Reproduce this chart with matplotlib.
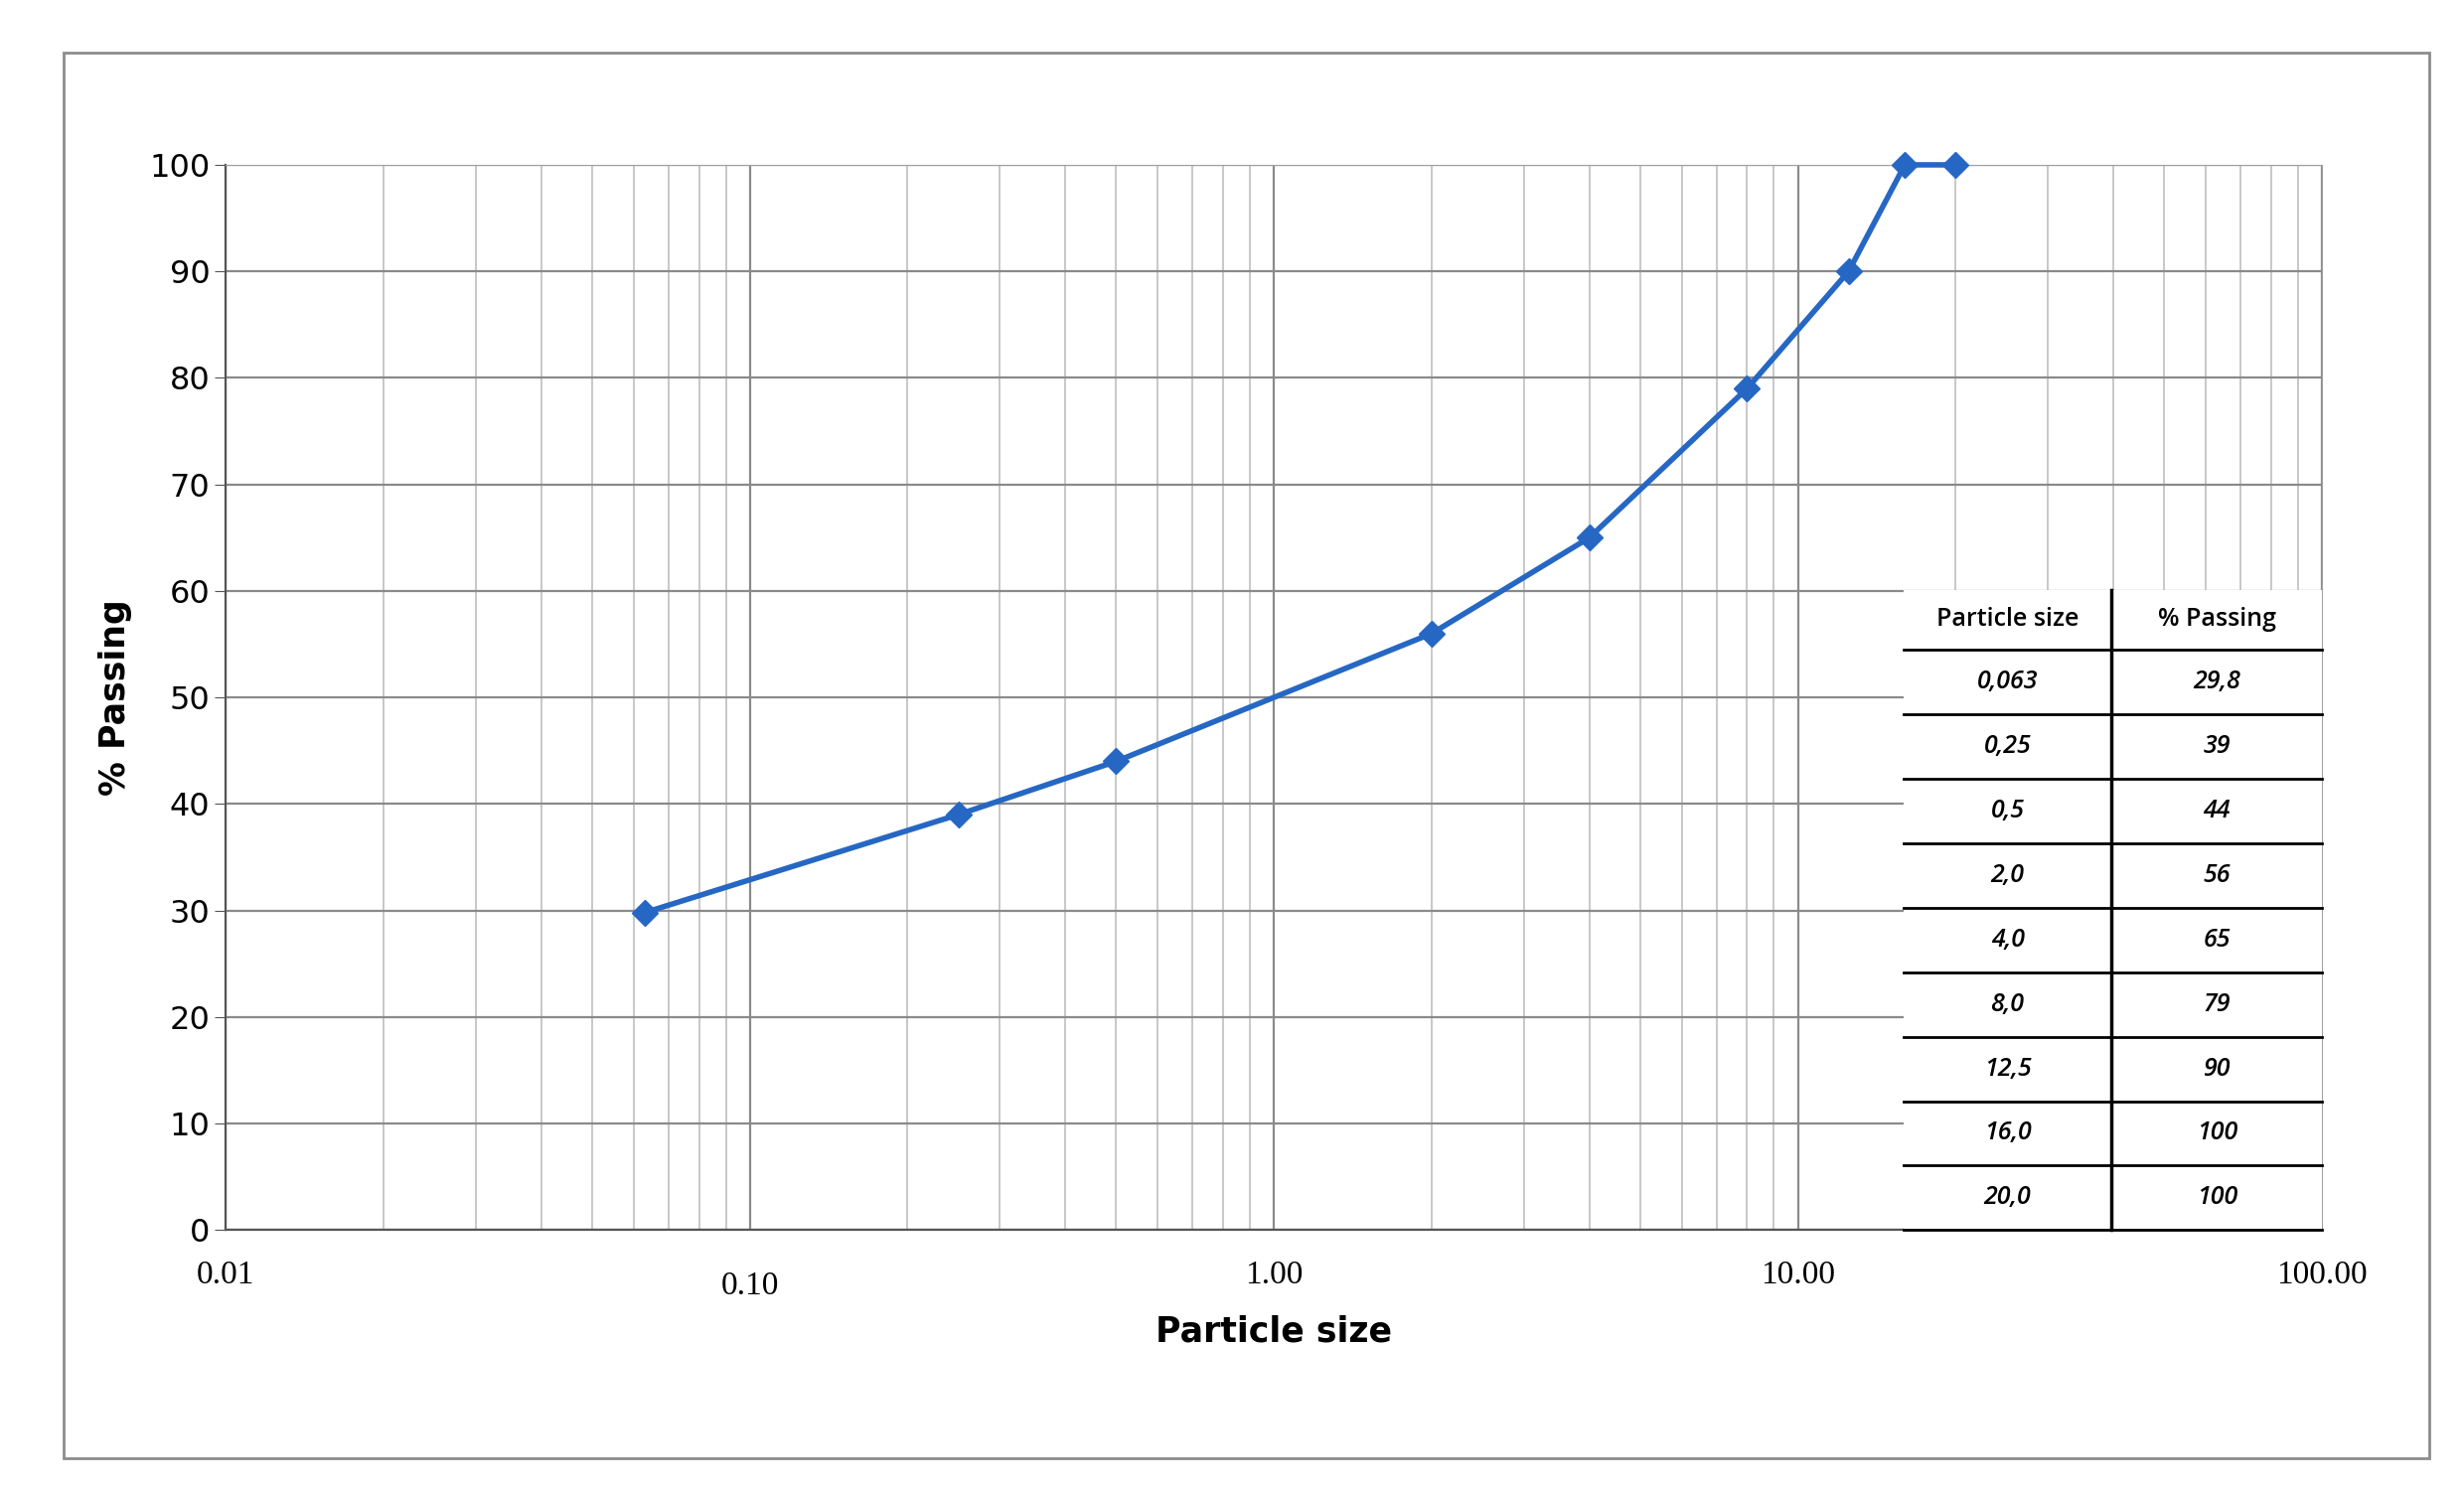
import matplotlib
matplotlib.use("Agg")
import matplotlib.pyplot as plt
from matplotlib.ticker import LogLocator, NullFormatter
from matplotlib.patches import Rectangle

sizes = [0.063, 0.25, 0.5, 2.0, 4.0, 8.0, 12.5, 16.0, 20.0]
passing = [29.8, 39, 44, 56, 65, 79, 90, 100, 100]
size_labels = ["0,063", "0,25", "0,5", "2,0", "4,0", "8,0", "12,5", "16,0", "20,0"]
pass_labels = ["29,8", "39", "44", "56", "65", "79", "90", "100", "100"]
xtick_vals = [0.01, 0.1, 1, 10, 100]
xtick_labels = ["0.01", "0.10", "1.00", "10.00", "100.00"]

W, H = 1560, 940
fig = plt.figure(figsize=(24.8, 15.0), dpi=100)
fig.patches.append(Rectangle((40/W, 1-920/H), (1538-40)/W, (920-33)/H, transform=fig.transFigure,
                             fill=False, edgecolor="#8c8c8c", lw=2.0))
ax = fig.add_axes([143/W, 1-776/H, (1470-143)/W, (776-104)/H])
ax.set_xscale("log")
ax.set_xlim(0.01, 100)
ax.set_ylim(0, 100)
ax.xaxis.set_major_locator(LogLocator(base=10))
ax.xaxis.set_minor_locator(LogLocator(base=10, subs=range(2, 10)))
ax.xaxis.set_minor_formatter(NullFormatter())
ax.set_xticks(xtick_vals)
ax.set_xticklabels(xtick_labels, family="Liberation Serif", fontsize=24)
for i, t in enumerate(ax.get_xticklabels()):
    if i == 1:
        t.set_y(-0.01)
ax.set_yticks(range(0, 101, 10))
ax.tick_params(axis="y", labelsize=23, length=8, color="#555555")
ax.tick_params(axis="x", which="both", length=0, pad=22)
ax.grid(True, which="major", color="#8a8a8a", lw=1.6)
ax.grid(True, which="minor", axis="x", color="#c8c8c8", lw=1.4)
ax.set_axisbelow(True)
for s in ["top", "right"]:
    ax.spines[s].set_color("#a0a0a0")
for s in ["left", "bottom"]:
    ax.spines[s].set_color("#555555")
    ax.spines[s].set_linewidth(1.6)

ax.plot(sizes, passing, color="#2667C4", lw=4, marker="D", markersize=13, zorder=3, clip_on=False)
ax.set_xlabel("Particle size", fontsize=25, fontweight="bold", labelpad=10)
ax.set_ylabel("% Passing", fontsize=25, fontweight="bold", labelpad=12)

# table
tx0, tx1, tmid = 1205/W, 1470/W, 1337/W
ty_top, ty_head, ty_bot = 1-372/H, 1-410/H, 1-776/H
fig.patches.append(Rectangle((tx0, ty_bot), tx1-tx0, ty_top-ty_bot, transform=fig.transFigure,
                             facecolor="white", edgecolor="none", zorder=5))
rowh = (ty_head - ty_bot) / len(sizes)
fig.add_artist(plt.Line2D([tmid, tmid], [ty_bot, ty_top], transform=fig.transFigure, color="black", lw=2.5, zorder=6))
for k in range(len(sizes)+1):
    y = ty_head - k*rowh
    fig.add_artist(plt.Line2D([tx0, tx1], [y, y], transform=fig.transFigure, color="black", lw=2.0, zorder=6))
fig.text((tx0+tmid)/2, (ty_top+ty_head)/2, "Particle size", ha="center", va="center", fontsize=18, family="Open Sans", fontweight="semibold", zorder=7)
fig.text((tmid+tx1)/2, (ty_top+ty_head)/2, "% Passing", ha="center", va="center", fontsize=18, family="Open Sans", fontweight="semibold", zorder=7)
for k, (a, b) in enumerate(zip(size_labels, pass_labels)):
    y = ty_head - (k+0.5)*rowh
    fig.text((tx0+tmid)/2, y, a, ha="center", va="center", fontsize=18, style="italic", fontweight="semibold", family="Open Sans", zorder=7)
    fig.text((tmid+tx1)/2, y, b, ha="center", va="center", fontsize=18, style="italic", fontweight="semibold", family="Open Sans", zorder=7)

fig.savefig("out.png", dpi=100, facecolor="white")
